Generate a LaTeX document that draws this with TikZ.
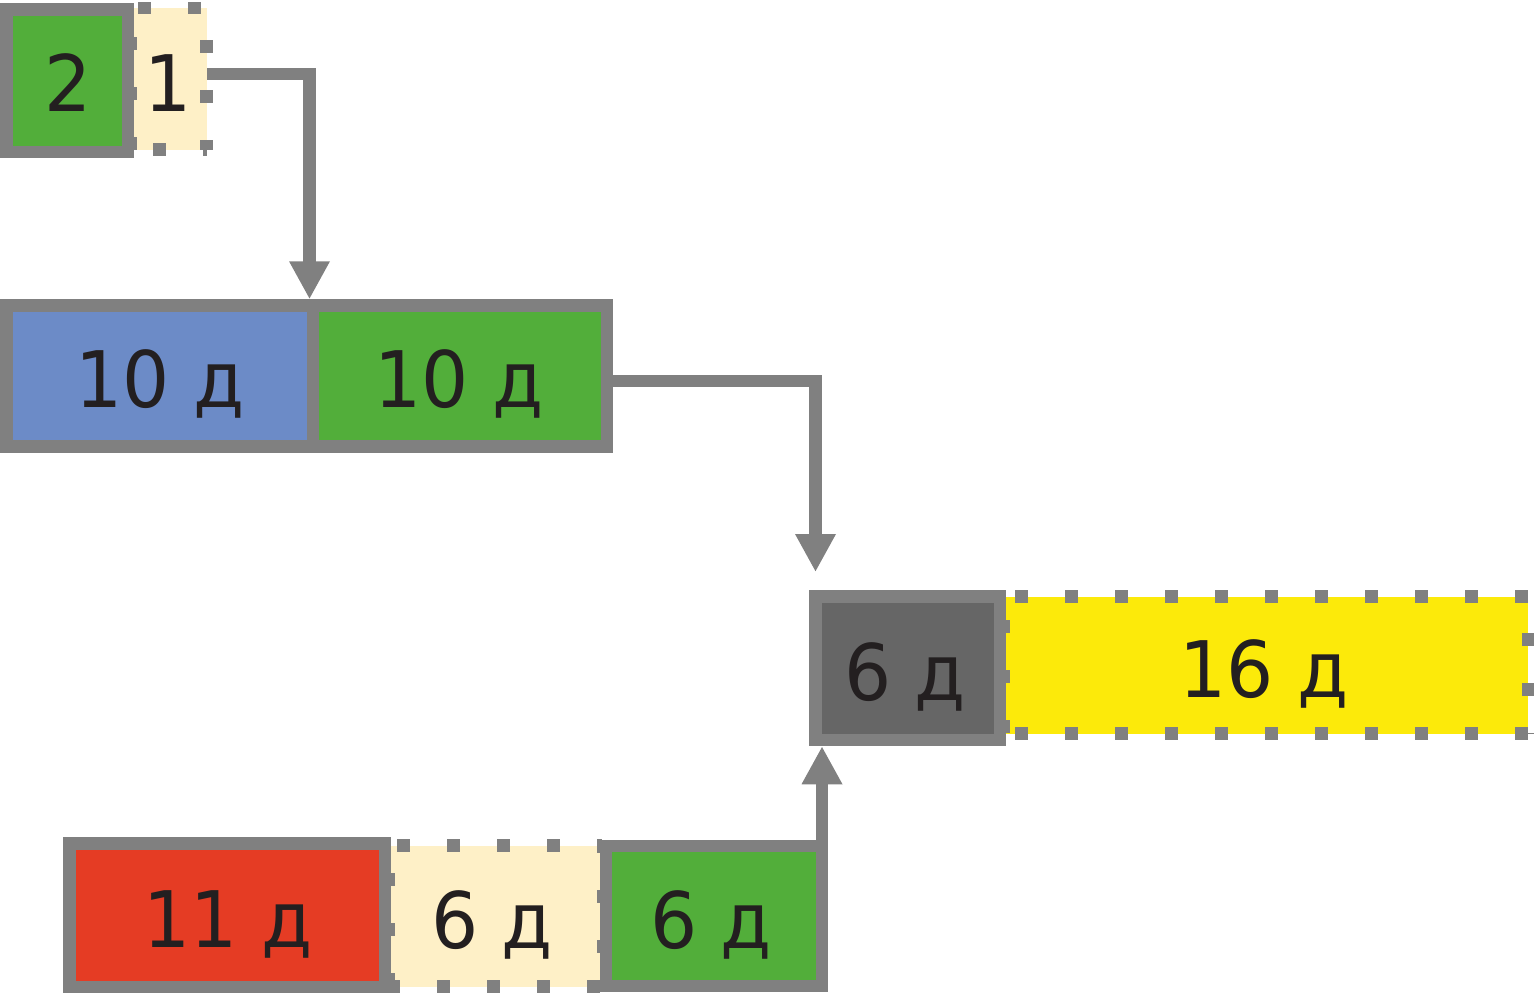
\documentclass[tikz,border=0pt]{standalone}
\usepackage{fontspec}
\setmainfont{DejaVu Sans}[FakeStretch=0.95]
\usetikzlibrary{arrows.meta}
\definecolor{strokegray}{HTML}{808080}
\definecolor{gGreen}{HTML}{52AE3A}
\definecolor{gBlue}{HTML}{6C8BC7}
\definecolor{gCream}{HTML}{FEF0C7}
\definecolor{gRed}{HTML}{E53C24}
\definecolor{gDark}{HTML}{666666}
\definecolor{gYellow}{HTML}{FCEA0A}
\definecolor{txt}{HTML}{231F20}
\tikzset{
  solidbox/.style={draw=strokegray, line width=12.5pt, inner sep=0pt, outer sep=0pt},
  softbox/.style={inner sep=0pt, outer sep=0pt},
  dotline/.style={draw=strokegray, line width=12.5pt, dash pattern=on 13pt off 37pt},
  conn/.style={draw=strokegray, line width=12.5pt, -{Triangle[width=38pt,length=38pt]}},
  lbl/.style={anchor=base, inner sep=0pt, outer sep=0pt, text=txt, font=\fontsize{78}{80}\selectfont}
}
\begin{document}
\begin{tikzpicture}[x=1pt,y=-1pt]
\useasboundingbox (0,0) rectangle (1534,994);
% soft (dotted) boxes
\node[softbox, fill=gCream, minimum width=73pt, minimum height=141.5pt] (cream1) at (170.5,78.75) {};
\node[softbox, fill=gYellow, minimum width=522pt, minimum height=137pt] (yellow) at (1267,665) {};
\node[softbox, fill=gCream, minimum width=211pt, minimum height=141pt] (cream6) at (496.5,916) {};
% dotted borders
\draw[dotline, dash phase=46pt] (134,8) -- (207,8);
\draw[dotline, dash phase=18pt] (206.5,8) -- (206.5,149.5);
\draw[dotline, dash phase=31pt] (134,149.5) -- (207,149.5);
\draw[dotline, dash phase=21pt] (130.75,8) -- (130.75,149.5);
\draw[dotline, dash phase=41pt] (1006,596.5) -- (1528,596.5);
\draw[dotline, dash phase=13.5pt] (1528,596.5) -- (1528,733.5);
\draw[dotline, dash phase=41pt] (1006,733.5) -- (1528,733.5);
\draw[dotline, dash phase=26.5pt] (1003.75,596.5) -- (1003.75,733.5);
\draw[dotline, dash phase=44pt] (391,845.5) -- (602,845.5);
\draw[dotline, dash phase=4pt] (391,986.5) -- (602,986.5);
\draw[dotline, dash phase=22.5pt] (388.75,845.5) -- (388.75,986.5);
\draw[dotline, dash phase=5.5pt] (603.25,845.5) -- (603.25,986.5);
% solid boxes
\node[solidbox, fill=gGreen, minimum width=121.5pt, minimum height=142.5pt] (green2) at (67,80.5) {};
\node[solidbox, fill=gBlue, minimum width=306.75pt, minimum height=141pt] (blueA) at (159.625,376) {};
\node[solidbox, fill=gGreen, minimum width=293.75pt, minimum height=141pt] (greenA) at (459.875,376) {};
\node[solidbox, fill=gDark, minimum width=184.5pt, minimum height=143.5pt] (grayB) at (907.75,668.25) {};
\node[solidbox, fill=gRed, minimum width=315.5pt, minimum height=143.5pt] (redB) at (227,915) {};
\node[solidbox, fill=gGreen, minimum width=216pt, minimum height=140pt] (green6) at (714,916) {};
% labels
\node[lbl] (t2) at (68,111) {2};
\node[lbl] (t1) at (168,111) {1};
\node[lbl] (t10a) at (160,407) {10 д};
\node[lbl] (t10b) at (459,407) {10 д};
\node[lbl] (t6g) at (905,700) {6 д};
\node[lbl] (t16) at (1264,697) {16 д};
\node[lbl] (t11) at (228,947) {11 д};
\node[lbl] (t6c) at (492,948) {6 д};
\node[lbl] (t6e) at (711,948) {6 д};
% connectors
\draw[conn, shorten >=6.25pt] ([yshift=5pt]cream1.east) -| ([xshift=-3.5pt]blueA.north east);
\draw[conn, shorten >=24.5pt] ([yshift=-5pt]greenA.east) -| (grayB.north west);
\draw[conn, shorten >=6.25pt] (green6.north east) -- (green6.north east |- grayB.south);
\end{tikzpicture}
\end{document}
